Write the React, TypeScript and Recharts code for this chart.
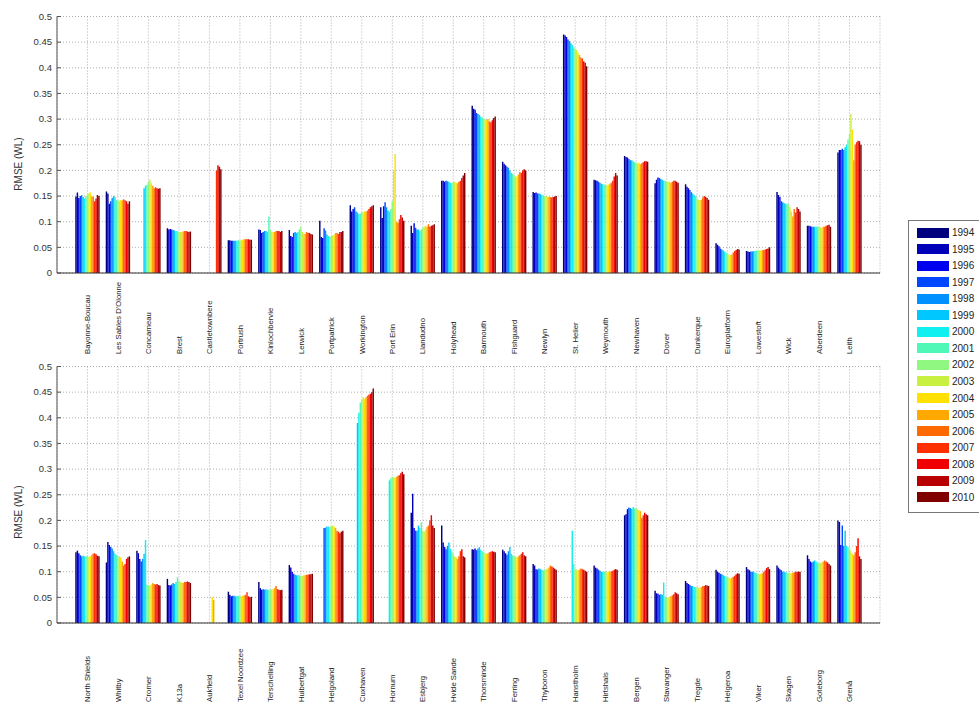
import React from 'react';
import { BarChart, Bar, XAxis, YAxis, CartesianGrid } from 'recharts';

const years = [1994, 1995, 1996, 1997, 1998, 1999, 2000, 2001, 2002, 2003, 2004, 2005, 2006, 2007, 2008, 2009, 2010];

const yearColors = [
  '#00007f', '#0000b8', '#0000f0', '#0048ff', '#0090ff', '#00c8ff', '#10f0f0', '#50f8b8',
  '#90f880', '#c8f040', '#ffe000', '#ffa800', '#ff6a00', '#ff3000', '#f00000', '#b80000', '#800000',
];

const yTicks = [0, 0.05, 0.1, 0.15, 0.2, 0.25, 0.3, 0.35, 0.4, 0.45, 0.5];

const topStations = [
  'Bayonne-Boucau', "Les Sables D'Olonne", 'Concarneau', 'Brest', 'Castletownbere', 'Portrush',
  'Kinlochbervie', 'Lerwick', 'Portpatrick', 'Workington', 'Port Erin', 'Llandudno', 'Holyhead',
  'Barmouth', 'Fishguard', 'Newlyn', 'St. Helier', 'Weymouth', 'Newhaven', 'Dover', 'Dunkerque',
  'Europlatform', 'Lowestoft', 'Wick', 'Aberdeen', 'Leith',
];

const bottomStations = [
  'North Shields', 'Whitby', 'Cromer', 'K13a', 'Aukfield', 'Texel Noordzee', 'Terschelling',
  'Huibertgat', 'Helgoland', 'Cuxhaven', 'Hornum', 'Esbjerg', 'Hvide Sande', 'Thorsminde',
  'Ferring', 'Thyboron', 'Hanstholm', 'Hirtshals', 'Bergen', 'Stavanger', 'Tregde', 'Helgeroa',
  'Viker', 'Skagen', 'Goteborg', 'Grenå',
];

// one row per station, 1994 .. 2010 (null = no data)
const topRmse: (number | null)[][] = [
  [0.149, 0.157, 0.146, 0.15, 0.152, 0.148, 0.145, 0.15, 0.152, 0.155, 0.157, 0.15, 0.148, 0.14, 0.145, 0.152, 0.15],
  [0.159, 0.155, 0.135, 0.14, 0.146, 0.15, 0.148, 0.142, 0.142, 0.14, 0.142, 0.142, 0.144, 0.142, 0.14, 0.135, 0.14],
  [null, null, null, null, null, 0.165, 0.17, 0.172, 0.178, 0.182, 0.175, 0.17, 0.165, 0.167, 0.165, 0.164, 0.165],
  [0.087, 0.085, 0.086, 0.085, 0.084, 0.083, 0.082, 0.082, 0.08, 0.08, 0.08, 0.081, 0.082, 0.082, 0.081, 0.08, 0.081],
  [null, null, null, null, null, null, null, null, null, null, null, null, null, 0.2, 0.21, 0.207, 0.202],
  [0.064, 0.064, 0.063, 0.063, 0.063, 0.063, 0.063, 0.064, 0.064, 0.064, 0.065, 0.066, 0.066, 0.066, 0.066, 0.065, 0.065],
  [0.085, 0.084, 0.078, 0.08, 0.082, 0.082, 0.08, 0.11, 0.085, 0.08, 0.08, 0.08, 0.082, 0.082, 0.082, 0.08, 0.082],
  [0.084, 0.072, 0.07, 0.078, 0.08, 0.078, 0.08, 0.085, 0.09, 0.08, 0.077, 0.076, 0.08, 0.078, 0.078, 0.076, 0.075],
  [0.102, 0.07, 0.068, 0.087, 0.083, 0.075, 0.072, 0.07, 0.072, 0.073, 0.075, 0.078, 0.078, 0.076, 0.08, 0.08, 0.082],
  [0.132, 0.12, 0.125, 0.128, 0.12, 0.118, 0.115, 0.116, 0.12, 0.118, 0.12, 0.12, 0.122, 0.125, 0.128, 0.13, 0.132],
  [0.128, 0.107, 0.13, 0.138, 0.128, 0.122, 0.12, 0.125, 0.14, 0.2, 0.232, 0.1, 0.098, 0.105, 0.113, 0.108, 0.102],
  [0.092, 0.078, 0.097, 0.088, 0.085, 0.085, 0.082, 0.085, 0.088, 0.09, 0.092, 0.09, 0.095, 0.09, 0.092, 0.093, 0.095],
  [0.18, 0.18, 0.178, 0.18, 0.179, 0.178, 0.176, 0.175, 0.177, 0.178, 0.176, 0.175, 0.178, 0.18, 0.185, 0.19, 0.195],
  [0.326, 0.32, 0.318, 0.312, 0.31, 0.308, 0.305, 0.303, 0.3, 0.3, 0.298, 0.3, 0.296, 0.294, 0.298, 0.302, 0.305],
  [0.217, 0.213, 0.21, 0.207, 0.205, 0.2, 0.195, 0.193, 0.19, 0.188, 0.188, 0.192, 0.197, 0.195, 0.2, 0.202, 0.2],
  [0.158, 0.156, 0.157, 0.155, 0.155, 0.154, 0.152, 0.151, 0.15, 0.15, 0.149, 0.148, 0.148, 0.147, 0.148, 0.149, 0.15],
  [0.465, 0.463, 0.46, 0.455, 0.452, 0.448, 0.445, 0.44, 0.437, 0.435, 0.43, 0.425, 0.42, 0.418, 0.413, 0.41, 0.403],
  [0.182, 0.181, 0.18, 0.178, 0.176, 0.174, 0.173, 0.172, 0.172, 0.171, 0.172, 0.174, 0.176, 0.18, 0.188, 0.195, 0.19],
  [0.228, 0.226, 0.225, 0.222, 0.22, 0.22, 0.218, 0.216, 0.215, 0.214, 0.215, 0.212, 0.214, 0.216, 0.218, 0.218, 0.217],
  [0.175, 0.182, 0.186, 0.185, 0.183, 0.182, 0.18, 0.18, 0.178, 0.178, 0.178, 0.176, 0.178, 0.18, 0.18, 0.178, 0.176],
  [0.173, 0.168, 0.165, 0.162, 0.158, 0.155, 0.152, 0.15, 0.145, 0.143, 0.142, 0.143, 0.147, 0.15, 0.148, 0.146, 0.143],
  [0.058, 0.055, 0.052, 0.048, 0.046, 0.044, 0.042, 0.04, 0.038, 0.036, 0.035, 0.036, 0.04, 0.043, 0.045, 0.047, 0.046],
  [0.043, 0.042, 0.041, 0.042, 0.042, 0.043, 0.043, 0.044, 0.044, 0.044, 0.044, 0.045, 0.045, 0.046, 0.047, 0.048, 0.05],
  [0.158, 0.152, 0.148, 0.14, 0.138, 0.136, 0.135, 0.135, 0.134, 0.128, 0.12, 0.11, 0.125, 0.118, 0.128, 0.125, 0.12],
  [0.092, 0.092, 0.091, 0.09, 0.09, 0.09, 0.09, 0.09, 0.09, 0.089, 0.088, 0.09, 0.09, 0.092, 0.093, 0.094, 0.09],
  [0.235, 0.24, 0.24, 0.242, 0.24, 0.245, 0.25, 0.26, 0.27, 0.31, 0.28, 0.22, 0.25, 0.255, 0.258, 0.257, 0.25],
];

const bottomRmse: (number | null)[][] = [
  [0.138, 0.141, 0.136, 0.132, 0.13, 0.131, 0.13, 0.13, 0.13, 0.129, 0.13, 0.133, 0.135, 0.136, 0.134, 0.131, 0.13],
  [0.118, 0.158, 0.152, 0.148, 0.145, 0.14, 0.135, 0.133, 0.13, 0.13, 0.128, 0.12, 0.112, 0.115, 0.125, 0.128, 0.13],
  [0.141, 0.136, 0.125, 0.12, 0.125, 0.135, 0.162, 0.075, 0.074, 0.073, 0.075, 0.078, 0.076, 0.075, 0.076, 0.074, 0.073],
  [0.086, 0.074, 0.073, 0.075, 0.078, 0.076, 0.08, 0.089, 0.082, 0.08, 0.079, 0.078, 0.08, 0.08, 0.081, 0.08, 0.078],
  [null, null, null, null, null, null, null, null, null, null, 0.05, 0.045, null, null, null, null, null],
  [0.061, 0.055, 0.052, 0.053, 0.053, 0.052, 0.052, 0.053, 0.052, 0.052, 0.053, 0.054, 0.055, 0.06, 0.052, 0.05, 0.051],
  [0.08, 0.068, 0.065, 0.066, 0.065, 0.066, 0.065, 0.065, 0.065, 0.066, 0.066, 0.068, 0.072, 0.066, 0.065, 0.064, 0.065],
  [0.113, 0.108, 0.1, 0.096, 0.094, 0.093, 0.093, 0.093, 0.092, 0.092, 0.093, 0.093, 0.094, 0.094, 0.095, 0.095, 0.096],
  [null, null, null, 0.185, 0.186, 0.188, 0.188, 0.187, 0.188, 0.19, 0.188, 0.185, 0.18, 0.178, 0.175, 0.178, 0.18],
  [null, null, null, null, null, 0.39, 0.41, 0.43, 0.435, 0.44, 0.437, 0.44, 0.443, 0.445, 0.447, 0.45, 0.457],
  [null, null, null, null, null, null, 0.278, 0.282, 0.285, 0.284, 0.283, 0.285, 0.287, 0.288, 0.292, 0.295, 0.29],
  [0.215, 0.252, 0.185, 0.18, 0.18, 0.19, 0.185, 0.196, 0.18, 0.178, 0.182, 0.187, 0.19, 0.2, 0.21, 0.19, 0.185],
  [0.19, 0.157, 0.148, 0.144, 0.15, 0.157, 0.145, 0.14, 0.135, 0.13, 0.128, 0.125, 0.13, 0.14, 0.144, 0.13, 0.128],
  [0.144, 0.143, 0.145, 0.142, 0.145, 0.148, 0.143, 0.14, 0.138, 0.136, 0.135, 0.136, 0.138, 0.139, 0.14, 0.139, 0.138],
  [0.143, 0.14, 0.136, 0.133, 0.14, 0.148, 0.135, 0.132, 0.13, 0.13, 0.128, 0.13, 0.132, 0.135, 0.138, 0.132, 0.13],
  [0.115, 0.112, 0.105, 0.104, 0.106, 0.105, 0.104, 0.103, 0.104, 0.105, 0.106, 0.108, 0.112, 0.11, 0.108, 0.106, 0.104],
  [null, null, null, null, null, null, 0.18, 0.115, 0.105, 0.104, 0.103, 0.104, 0.106, 0.105, 0.104, 0.102, 0.1],
  [0.112, 0.108, 0.106, 0.104, 0.102, 0.1, 0.1, 0.1, 0.1, 0.099, 0.1, 0.1, 0.101, 0.102, 0.104, 0.105, 0.104],
  [0.21, 0.212, 0.222, 0.225, 0.224, 0.222, 0.226, 0.223, 0.224, 0.222, 0.22, 0.218, 0.205, 0.21, 0.215, 0.212, 0.21],
  [0.063, 0.058, 0.057, 0.055, 0.056, 0.055, 0.079, 0.052, 0.05, 0.05, 0.05, 0.052, 0.054, 0.056, 0.06, 0.058, 0.056],
  [0.082, 0.078, 0.076, 0.074, 0.072, 0.072, 0.07, 0.07, 0.07, 0.069, 0.068, 0.07, 0.072, 0.072, 0.074, 0.073, 0.072],
  [0.104, 0.1, 0.098, 0.096, 0.095, 0.093, 0.092, 0.09, 0.09, 0.088, 0.087, 0.088, 0.09, 0.092, 0.095, 0.097, 0.096],
  [0.109, 0.105, 0.103, 0.1, 0.1, 0.1, 0.098, 0.097, 0.096, 0.095, 0.096, 0.097, 0.1, 0.103, 0.107, 0.109, 0.105],
  [0.112, 0.108, 0.105, 0.103, 0.1, 0.1, 0.099, 0.098, 0.098, 0.097, 0.097, 0.098, 0.099, 0.1, 0.1, 0.1, 0.1],
  [0.132, 0.125, 0.12, 0.118, 0.12, 0.122, 0.12, 0.118, 0.117, 0.117, 0.118, 0.12, 0.122, 0.12, 0.118, 0.115, 0.112],
  [0.2, 0.197, 0.152, 0.19, 0.15, 0.18, 0.15, 0.148, 0.145, 0.14, 0.135, 0.132, 0.138, 0.15, 0.165, 0.13, 0.125],
];

const FONT = '"Liberation Sans", Arial, sans-serif';

const buildRows = (stations: string[], values: (number | null)[][]) =>
  stations.map((station, i) => {
    const row: Record<string, any> = { station };
    years.forEach((y, j) => {
      row['y' + y] = values[i][j];
    });
    return row;
  });

const topData = buildRows(topStations, topRmse);
const bottomData = buildRows(bottomStations, bottomRmse);

// rotated station names, reading upwards, aligned at their bottom end
const makeTick = (drop: number) => (props: any) => {
  const { x, y, payload } = props;
  return (
    <g transform={`translate(${x},${y + drop}) rotate(-90)`}>
      <text x={0} y={0} dy="0.35em" textAnchor="start" fontSize={7.7} fill="#222" fontFamily={FONT}>
        {payload.value}
      </text>
    </g>
  );
};

// matlab-style tick: short mark pointing into the plot, label to the left
const ValueTick = (props: any) => {
  const { x, y, payload } = props;
  return (
    <g>
      <line x1={x} x2={x + 4} y1={y} y2={y} stroke="#555" strokeWidth={1} />
      <text x={x - 5} y={y} dy="0.35em" textAnchor="end" fontSize={9.5} fill="#333" fontFamily={FONT}>
        {payload.value}
      </text>
    </g>
  );
};

const Panel = ({ data, top, drop }: { data: any[]; top: number; drop: number }) => (
  <div style={{ position: 'absolute', left: 0, top }}>
    <BarChart
      width={979}
      height={363}
      data={data}
      margin={{ top: 16.5, right: 99, left: 0, bottom: 0 }}
      barCategoryGap="10%"
      barGap={0}
      barSize={1.435}
    >
      <CartesianGrid stroke="#9a9a9a" strokeDasharray="1 2" strokeWidth={0.8} />
      <XAxis
        dataKey="station"
        interval={0}
        height={90}
        tickSize={0}
        tickMargin={0}
        padding={{ left: 15.25, right: 15.25 }}
        stroke="#333"
        tick={makeTick(drop)}
      />
      <YAxis
        width={57}
        domain={[0, 0.5]}
        ticks={yTicks}
        tickSize={0}
        tickMargin={0}
        stroke="#555"
        tick={<ValueTick />}
        allowDataOverflow
      />
      {years.map((y, i) => (
        <Bar key={y} dataKey={'y' + y} fill={yearColors[i]} isAnimationActive={false} />
      ))}
    </BarChart>
  </div>
);

const App: React.FC = () => {
  return (
    <div
      style={{
        position: 'absolute',
        left: 0,
        top: 0,
        width: 979,
        height: 707,
        overflow: 'hidden',
        background: '#fff',
        fontFamily: FONT,
      }}
    >
      <Panel data={topData} top={0} drop={81} />
      <Panel data={bottomData} top={350} drop={79} />

      <svg width={40} height={707} style={{ position: 'absolute', left: 0, top: 0 }}>
        <text
          transform="translate(22,164) rotate(-90)"
          textAnchor="middle"
          fontSize={10}
          fill="#333"
          fontFamily={FONT}
        >
          RMSE (WL)
        </text>
        <text
          transform="translate(22,512) rotate(-90)"
          textAnchor="middle"
          fontSize={10}
          fill="#333"
          fontFamily={FONT}
        >
          RMSE (WL)
        </text>
      </svg>

      <div
        style={{
          position: 'absolute',
          left: 908,
          top: 220,
          width: 90,
          height: 291,
          border: '1px solid #777',
          background: '#fff',
        }}
      >
        {years.map((y, i) => (
          <div
            key={y}
            style={{
              position: 'absolute',
              left: 8,
              top: 6 + i * 16.55,
              height: 11,
              display: 'flex',
              alignItems: 'center',
            }}
          >
            <div style={{ width: 32, height: 10, background: yearColors[i] }} />
            <span style={{ marginLeft: 3, fontSize: 10, color: '#222', lineHeight: '11px' }}>{y}</span>
          </div>
        ))}
      </div>
    </div>
  );
};

export default App;
